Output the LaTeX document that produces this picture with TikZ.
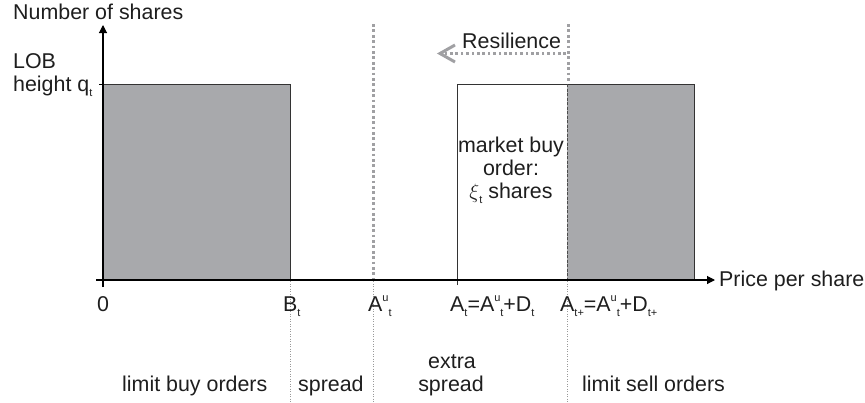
\documentclass[tikz,border=0pt]{standalone}
\usepackage{fontspec}
\setmainfont{Liberation Sans}
\usetikzlibrary{arrows.meta}
\newcommand{\lsub}[1]{\raisebox{-0.45ex}{\fontsize{11}{11}\selectfont #1}}
\newcommand{\lsup}[1]{\raisebox{0.85ex}{\fontsize{11}{11}\selectfont #1}}
\definecolor{boxgray}{RGB}{168,169,172}
\definecolor{dotgray}{RGB}{160,160,163}
\definecolor{txt}{RGB}{30,30,30}
\tikzset{
  lab/.style={font=\fontsize{21.4}{23}\selectfont, inner sep=0pt, text=txt},
  boxline/.style={draw=black!80, line width=1pt},
  thickdot/.style={draw=dotgray, line width=3pt, dash pattern=on 2.7pt off 2.7pt},
  thindot/.style={draw=black!40, line width=0.8pt, dash pattern=on 1pt off 1.5pt},
  midline/.style={draw=black!70, line width=0.8pt, dash pattern=on 3pt off 1.5pt},
  axis/.style={draw=black, line width=1.1pt, -{Triangle[length=8pt,width=8pt]}}
}
\begin{document}
\begin{tikzpicture}[x=1pt,y=-1pt]
\useasboundingbox (0,0) rectangle (865,402);
% boxes
\fill[boxgray] (103,84) rectangle (290,280);
\draw[boxline] (103,84) -- (290,84) -- (290,280);
\fill[boxgray] (567,84) rectangle (694,280);
\draw[boxline] (567,84) -- (694,84) -- (694,280);
\draw[boxline] (457,285) -- (457,84) -- (567,84);
\draw[midline] (567,84) -- (567,280);
% dotted lines
\draw[thickdot] (373,24) -- (373,279);
\draw[thickdot] (568,24) -- (568,83);
\draw[thindot] (290,281) -- (290,402);
\draw[thindot] (373,281) -- (373,402);
\draw[thindot] (567,281) -- (567,402);
% resilience arrow
\coordinate (rs) at (566,53);
\coordinate (re) at (443,53);
\draw[thickdot] (rs) -- (re);
\draw[draw=dotgray, line width=3pt, line join=miter] (455,45) -- (440,53.5) -- (455,62);
% axes
\coordinate (o) at (103,287);
\coordinate (ytip) at (103,25);
\coordinate (xs) at (96,280);
\coordinate (xtip) at (715,280);
\draw[axis] (o) -- (ytip);
\draw[axis] (xs) -- (xtip);
\draw[black, line width=1pt] (99,84) -- (103,84);
% labels
\node[lab, anchor=base west] (ylab) at (13,19) {Number of shares};
\node[lab, anchor=base west] (lob) at (13,68) {LOB};
\node[lab, anchor=base west] (hq) at (13,91) {height q\lsub{t}};
\node[lab, anchor=base west] (res) at (462,48) {Resilience};
\node[lab, anchor=base] (mb1) at (511,152) {market buy};
\node[lab, anchor=base] (mb2) at (511,175) {order:};
\node[lab, anchor=base] (mb3) at (511,198) {$\xi$\lsub{t} shares};
\node[lab, anchor=base west] (xlab) at (719,286) {Price per share};
\node[lab, anchor=base west] (l0) at (97,311) {0};
\node[lab, anchor=base west] (lb) at (283,311) {B\lsub{t}};
\node[lab, anchor=base west] (lau) at (368,311) {A\lsup{u}\lsub{t}};
\node[lab, anchor=base west] (lat) at (450,311) {A\lsub{t}=A\lsup{u}\lsub{t}+D\lsub{t}};
\node[lab, anchor=base west] (latp) at (560,311) {A\lsub{t+}=A\lsup{u}\lsub{t}+D\lsub{t+}};
\node[lab, anchor=base west] (lbuy) at (122,391) {limit buy orders};
\node[lab, anchor=base west] (lspr) at (298,391) {spread};
\node[lab, anchor=base] (lex1) at (452,368) {extra};
\node[lab, anchor=base] (lex2) at (451,391) {spread};
\node[lab, anchor=base west] (lsell) at (582,391) {limit sell orders};
\end{tikzpicture}
\end{document}
